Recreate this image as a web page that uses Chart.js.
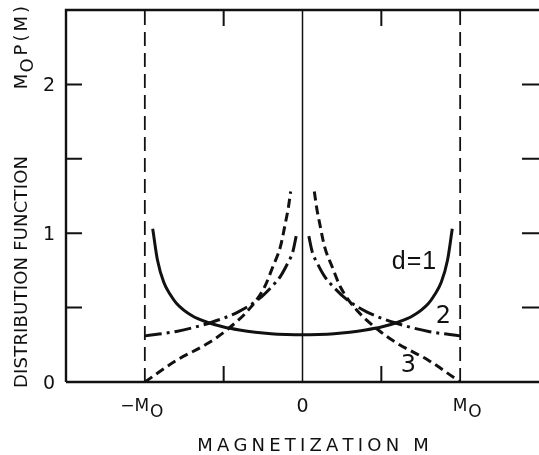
<!DOCTYPE html>
<html>
<head>
<meta charset="utf-8">
<script src="https://cdn.jsdelivr.net/npm/chart.js@4.4.0/dist/chart.umd.min.js"></script>
<style>
  html, body { margin: 0; padding: 0; background: #fff; }
  #wrap { width: 539px; height: 455px; }
</style>
</head>
<body>
<div id="wrap"><canvas id="chart" width="539" height="455"></canvas></div>
<script>
// d = 1 curve (solid)
const d1M = [-0.95, -0.92, -0.88, -0.84, -0.8, -0.7, -0.6, -0.5, -0.4, -0.3, -0.2, -0.1, 0,
             0.1, 0.2, 0.3, 0.4, 0.5, 0.6, 0.7, 0.8, 0.84, 0.88, 0.92, 0.95];
const d1P = [1.03, 0.82, 0.67, 0.59, 0.53, 0.445, 0.40, 0.37, 0.35, 0.335, 0.325, 0.32, 0.318,
             0.32, 0.325, 0.335, 0.35, 0.37, 0.40, 0.445, 0.53, 0.59, 0.67, 0.82, 1.03];

// d = 2 curve (dash-dot), broken at M = 0
const d2M = [-1, -0.8, -0.58, -0.41, -0.28, -0.2, -0.14, -0.093, -0.063, -0.04, 0,
             0.04, 0.063, 0.093, 0.14, 0.2, 0.28, 0.41, 0.58, 0.8, 1];
const d2P = [0.31, 0.34, 0.40, 0.47, 0.555, 0.635, 0.71, 0.80, 0.87, 0.98, null,
             0.98, 0.87, 0.80, 0.71, 0.635, 0.555, 0.47, 0.40, 0.34, 0.31];

// d = 3 curve (dashed), broken at M = 0
const d3M = [-1, -0.8, -0.6, -0.48, -0.33, -0.24, -0.19, -0.14, -0.11, -0.09, -0.075, 0,
             0.075, 0.09, 0.11, 0.14, 0.19, 0.24, 0.33, 0.48, 0.6, 0.8, 1];
const d3P = [0, 0.145, 0.26, 0.35, 0.50, 0.64, 0.77, 0.91, 1.06, 1.17, 1.28, null,
             1.28, 1.17, 1.06, 0.91, 0.77, 0.64, 0.50, 0.35, 0.26, 0.145, 0];

// vertical marker lines at -M0, 0, M0
const markerM = [-1, 0, 1];

const xTicks = [-1, -0.5, 0, 0.5, 1];
const xTickLabels = ['\u2212M', '', '0', '', 'M'];
const yTicks = [0, 0.5, 1, 1.5, 2];
const yTickLabels = ['0', '', '1', '', '2'];

const curveLabels = ['d=1', '2', '3'];
const curveLabelM = [0.707, 0.894, 0.672];
const curveLabelP = [0.806, 0.44, 0.108];

const INK = '#111';
const FONT = '"DejaVu Sans", "Liberation Sans", sans-serif';

function pts(xs, ys) {
  return xs.map((x, i) => ({ x: x, y: ys[i] }));
}

function spaced(ctx, text, x, y, gap, align) {
  let total = 0;
  for (const ch of text) total += ctx.measureText(ch).width;
  total += gap * (text.length - 1);
  let cx = align === 'center' ? x - total / 2 : (align === 'right' ? x - total : x);
  ctx.textAlign = 'left';
  for (const ch of text) {
    ctx.fillText(ch, cx, y);
    cx += ctx.measureText(ch).width + gap;
  }
  return total;
}

const markerSets = markerM.map(m => ({
  data: [{ x: m, y: 0 }, { x: m, y: 2.5 }],
  borderColor: INK,
  borderWidth: m === 0 ? 1.5 : 1.8,
  borderDash: m === 0 ? [] : [14, 7],
  pointRadius: 0,
  fill: false
}));

const framePlugin = {
  id: 'frame',
  afterDatasetsDraw(chart) {
    const ctx = chart.ctx;
    const xs = chart.scales.x, ys = chart.scales.y;
    const a = chart.chartArea;
    ctx.save();
    ctx.strokeStyle = INK;
    ctx.fillStyle = INK;
    ctx.lineWidth = 2.4;
    ctx.setLineDash([]);
    ctx.beginPath();
    ctx.moveTo(a.left, a.bottom);
    ctx.lineTo(a.left, a.top);
    ctx.lineTo(a.right, a.top);
    ctx.moveTo(a.left, a.bottom);
    ctx.lineTo(a.right, a.bottom);
    ctx.stroke();

    // inward ticks
    ctx.lineWidth = 2;
    ctx.beginPath();
    yTicks.forEach(v => {
      if (v === 0) return;
      const py = ys.getPixelForValue(v);
      ctx.moveTo(a.left, py); ctx.lineTo(a.left + 16, py);
      ctx.moveTo(a.right, py); ctx.lineTo(a.right - 17, py);
    });
    xTicks.forEach(v => {
      if (markerM.includes(v)) return;
      const px = xs.getPixelForValue(v);
      ctx.moveTo(px, a.bottom); ctx.lineTo(px, a.bottom - 16);
      ctx.moveTo(px, a.top); ctx.lineTo(px, a.top + 16);
    });
    ctx.stroke();

    // y tick labels
    ctx.font = '19px ' + FONT;
    ctx.textBaseline = 'middle';
    ctx.textAlign = 'center';
    yTicks.forEach((v, i) => {
      if (!yTickLabels[i]) return;
      ctx.fillText(yTickLabels[i], 49, ys.getPixelForValue(v) + 2);
    });

    // x tick labels (M with subscript O)
    xTicks.forEach((v, i) => {
      const lab = xTickLabels[i];
      if (!lab) return;
      const px = xs.getPixelForValue(v);
      const py = a.bottom + 25;
      if (lab === '0') {
        ctx.font = '19px ' + FONT;
        ctx.textAlign = 'center';
        ctx.fillText(lab, px, py);
        return;
      }
      ctx.font = '17px ' + FONT;
      const w1 = ctx.measureText(lab).width;
      const w2 = ctx.measureText('O').width;
      const cx = v < 0 ? px - 3 : px + 7;
      const x0 = cx - (w1 + 1 + w2) / 2;
      ctx.textAlign = 'left';
      ctx.fillText(lab, x0, py);
      ctx.fillText('O', x0 + w1 + 1, py + 6);
    });

    // x axis title
    ctx.font = '18px ' + FONT;
    ctx.textBaseline = 'middle';
    spaced(ctx, 'MAGNETIZATION M', 313, 446, 4.2, 'center');

    // y axis title, rotated
    ctx.save();
    ctx.translate(22, 388);
    ctx.rotate(-Math.PI / 2);
    ctx.font = '18px ' + FONT;
    ctx.textBaseline = 'middle';
    spaced(ctx, 'DISTRIBUTION FUNCTION', 0, 0, 0.2, 'left');
    // M_O P(M), ending near the top of the plot
    const end = 388 - 6;
    let wP = 0;
    for (const ch of 'P(M)') wP += ctx.measureText(ch).width + 3;
    wP -= 3;
    const wM = ctx.measureText('M').width;
    const wO = ctx.measureText('O').width;
    const sx = end - wP - 3 - wO - 1 - wM;
    ctx.textAlign = 'left';
    ctx.fillText('M', sx, 0);
    ctx.fillText('O', sx + wM + 1, 6);
    spaced(ctx, 'P(M)', sx + wM + 1 + wO + 3, 0, 3, 'left');
    ctx.restore();

    // curve labels
    ctx.textBaseline = 'middle';
    curveLabels.forEach((t, i) => {
      const px = xs.getPixelForValue(curveLabelM[i]);
      const py = ys.getPixelForValue(curveLabelP[i]);
      if (t.length > 1) {
        ctx.font = '25px "Liberation Sans", ' + FONT;
        spaced(ctx, t, px, py, 1, 'center');
      } else {
        ctx.font = '24px ' + FONT;
        ctx.textAlign = 'center';
        ctx.fillText(t, px, py);
      }
    });
    ctx.restore();
  }
};

new Chart(document.getElementById('chart'), {
  type: 'line',
  data: {
    datasets: [
      {
        label: 'd = 1',
        data: pts(d1M, d1P),
        borderColor: INK,
        borderWidth: 3,
        pointRadius: 0,
        cubicInterpolationMode: 'monotone',
        fill: false
      },
      {
        label: 'd = 2',
        data: pts(d2M, d2P),
        borderColor: INK,
        borderWidth: 3,
        borderDash: [17, 5, 3, 5],
        pointRadius: 0,
        spanGaps: false,
        cubicInterpolationMode: 'monotone',
        fill: false
      },
      {
        label: 'd = 3',
        data: pts(d3M, d3P),
        borderColor: INK,
        borderWidth: 3,
        borderDash: [9, 5],
        pointRadius: 0,
        spanGaps: false,
        cubicInterpolationMode: 'monotone',
        fill: false
      },
      ...markerSets
    ]
  },
  options: {
    responsive: false,
    animation: false,
    devicePixelRatio: 1,
    layout: { padding: { left: 66, right: 0, top: 10, bottom: 73 } },
    plugins: { legend: { display: false }, tooltip: { enabled: false } },
    scales: {
      x: { type: 'linear', min: -1.5, max: 1.5, display: false },
      y: { min: 0, max: 2.5, display: false }
    }
  },
  plugins: [framePlugin]
});
</script>
</body>
</html>
